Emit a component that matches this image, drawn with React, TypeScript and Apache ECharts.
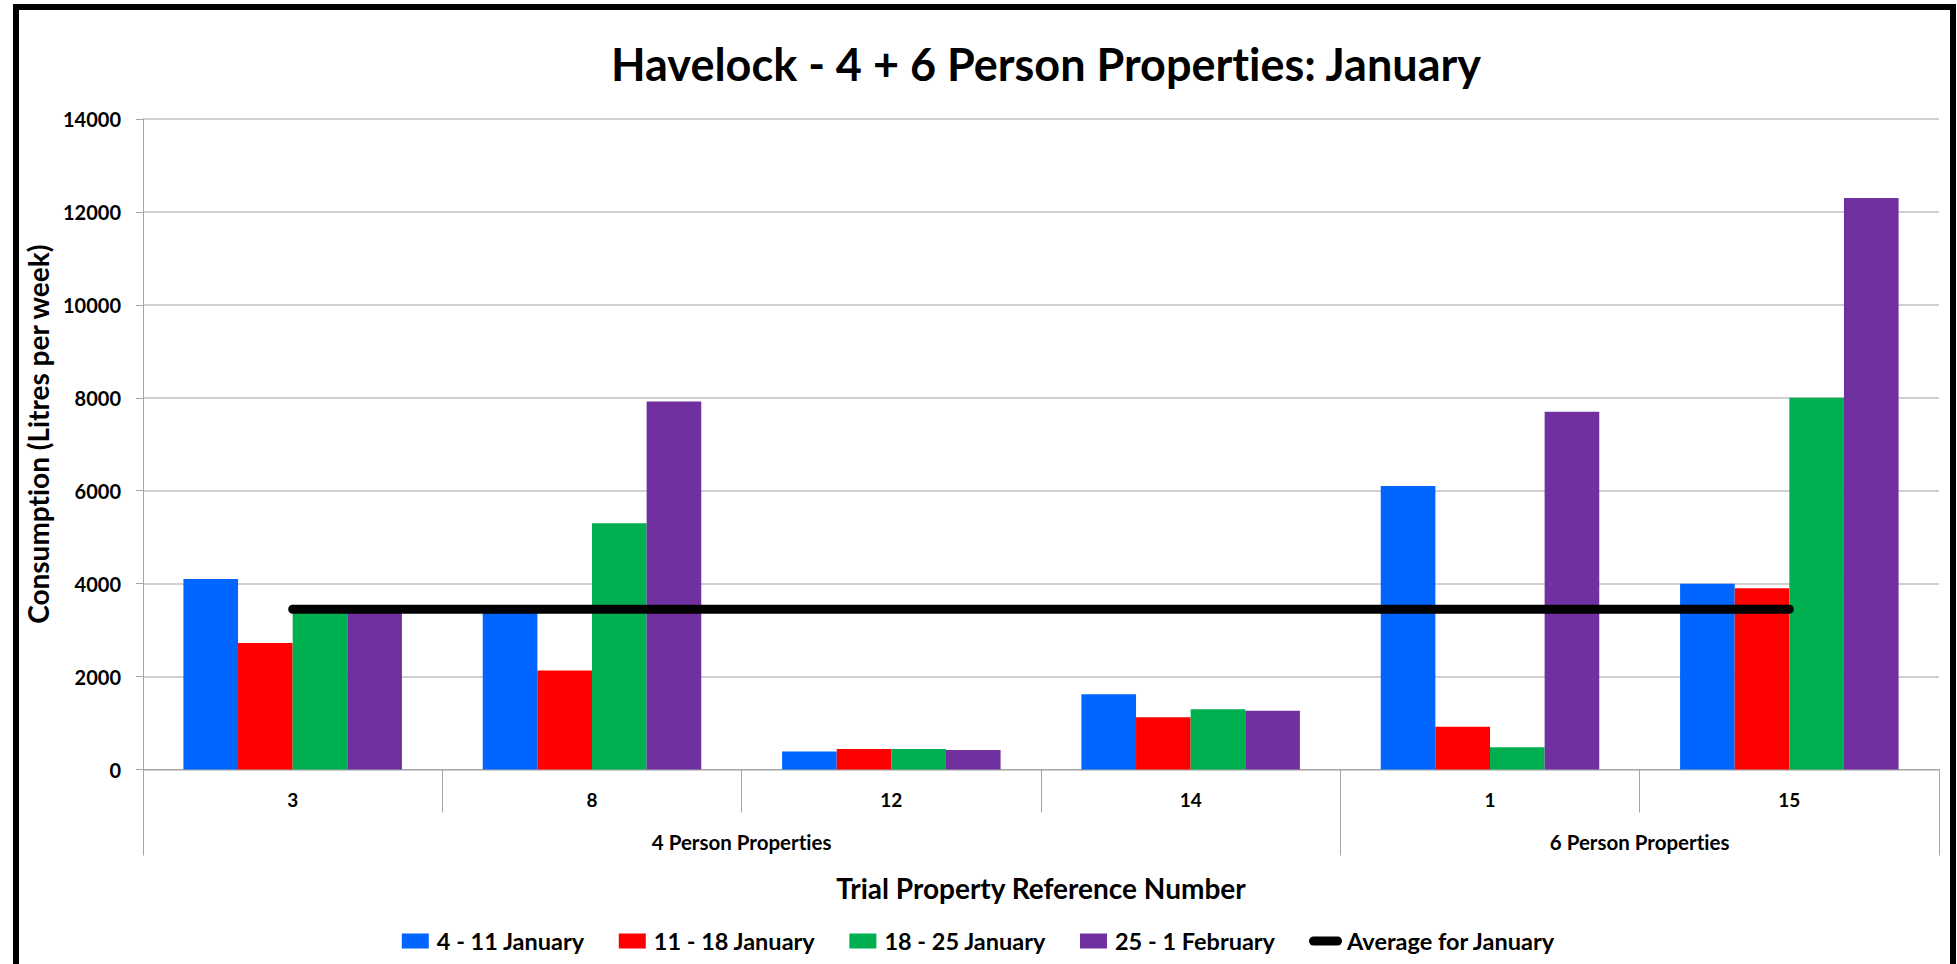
import React, { useEffect, useRef } from "react";
import * as echarts from "echarts";

const categories = ["3", "8", "12", "14", "1", "15"];
const groupNames = ["4 Person Properties", "6 Person Properties"];
const groupSpans = [4, 2];
const week1 = [4100, 3430, 390, 1620, 6100, 4000];
const week2 = [2720, 2130, 443, 1123, 921, 3900];
const week3 = [3410, 5300, 443, 1296, 478, 8000];
const week4 = [3420, 7920, 420, 1266, 7700, 12300];
const avgJanuary = 3450;
const seriesNames = ["4 - 11 January", "11 - 18 January", "18 - 25 January", "25 - 1 February", "Average for January"];
const yTicks = [0, 2000, 4000, 6000, 8000, 10000, 12000, 14000];

const FONT = "Lato";
const SQUARE_ICON = "path://M0,0H27V15H0Z";
const LINE_ICON = "path://M4.5,0H28.5A4.5,4.5 0 0 1 28.5,9H4.5A4.5,4.5 0 0 1 4.5,0Z";

export default function App() {
  const ref = useRef<HTMLDivElement>(null);
  useEffect(() => {
    if (!ref.current) return;
    const chart = echarts.init(ref.current, undefined, { renderer: "svg" });
    const groupTicks: number[] = [0];
    const groupCenters: number[] = [];
    let acc = 0;
    groupSpans.forEach((s) => {
      groupCenters.push(acc + s / 2);
      acc += s;
      groupTicks.push(acc);
    });
    const colors = ["#0066FF", "#FF0000", "#00B050", "#7030A0"];
    const weeks = [week1, week2, week3, week4];
    chart.setOption({
      animation: false,
      backgroundColor: "#ffffff",
      textStyle: { fontFamily: FONT },
      title: {
        text: "Havelock - 4 + 6 Person Properties: January",
        left: 1041,
        textAlign: "center",
        top: 36,
        textStyle: { fontFamily: FONT, fontSize: 45, fontWeight: "bold", color: "#000" },
      },
      grid: { left: 143, right: 18, top: 119, bottom: 194.5, containLabel: false },
      legend: {
        left: "center",
        top: 924,
        itemWidth: 33,
        itemHeight: 15,
        itemGap: 34,
        symbolKeepAspect: true,
        textStyle: { fontFamily: FONT, fontSize: 23.5, fontWeight: "bold", color: "#000" },
        data: seriesNames.map((n, i) => ({ name: n, icon: i < 4 ? SQUARE_ICON : LINE_ICON })),
      },
      xAxis: [
        {
          type: "category",
          data: categories,
          boundaryGap: true,
          axisLine: { show: true, lineStyle: { color: "#A6A6A6", width: 1 } },
          axisTick: { show: true, interval: 0, length: 43, lineStyle: { color: "#A6A6A6" } },
          axisLabel: { interval: 0, margin: 20, fontFamily: FONT, fontSize: 19, fontWeight: "bold", color: "#000" },
          name: "Trial Property Reference Number",
          nameLocation: "middle",
          nameGap: 104,
          nameTextStyle: { fontFamily: FONT, fontSize: 28, fontWeight: "bold", color: "#000" },
        },
        {
          type: "value",
          position: "bottom",
          min: 0,
          max: acc,
          splitLine: { show: false },
          axisLine: { show: false },
          axisTick: { show: true, length: 86, customValues: groupTicks, lineStyle: { color: "#A6A6A6" } },
          axisLabel: {
            show: true,
            customValues: groupCenters,
            margin: 62,
            fontFamily: FONT,
            fontSize: 20.5,
            fontWeight: "bold",
            color: "#000",
            formatter: (v: number) => {
              const i = groupCenters.indexOf(v);
              return i >= 0 ? groupNames[i] : "";
            },
          },
        },
      ],
      yAxis: {
        type: "value",
        min: yTicks[0],
        max: yTicks[yTicks.length - 1],
        interval: yTicks[1] - yTicks[0],
        axisLine: { show: true, lineStyle: { color: "#A6A6A6" } },
        axisTick: { show: true, length: 7, lineStyle: { color: "#A6A6A6" } },
        splitLine: { show: true, lineStyle: { color: "#C0C0C0", width: 1.5 } },
        axisLabel: {
          margin: 22,
          fontFamily: FONT,
          fontSize: 20,
          fontWeight: "bold",
          color: "#000",
          formatter: (v: number) => String(v),
        },
        name: "Consumption (Litres per week)",
        nameLocation: "middle",
        nameGap: 82,
        nameTextStyle: { fontFamily: FONT, fontSize: 28, fontWeight: "bold", color: "#000", padding: [0, 0, 0, 20] },
      },
      series: [
        ...weeks.map((d, i) => ({
          name: seriesNames[i],
          type: "bar",
          xAxisIndex: 0,
          data: d,
          barGap: "0%",
          barCategoryGap: "27%",
          itemStyle: { color: colors[i] },
        })),
        {
          name: seriesNames[4],
          type: "line",
          xAxisIndex: 0,
          data: categories.map(() => avgJanuary),
          symbol: "none",
          showSymbol: false,
          z: 5,
          itemStyle: { color: "#000" },
          lineStyle: { color: "#000", width: 9, cap: "round" },
        },
      ],
      graphic: [
        {
          type: "rect",
          shape: { x: 16, y: 7, width: 1937, height: 970 },
          style: { fill: "none", stroke: "#000", lineWidth: 6 },
          z: 100,
          silent: true,
        },
      ],
    });
    return () => chart.dispose();
  }, []);
  return (
    <div
      ref={ref}
      style={{ position: "fixed", left: 0, top: 0, width: 1957, height: 964, fontVariantLigatures: "none" }}
    />
  );
}
